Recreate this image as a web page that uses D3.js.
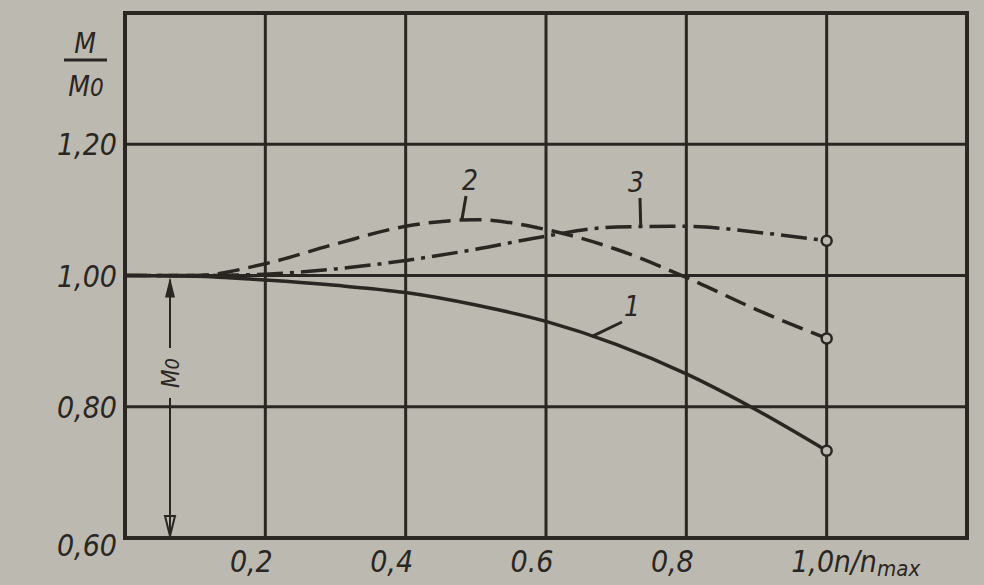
<!DOCTYPE html>
<html>
<head>
<meta charset="utf-8">
<script src="https://cdn.jsdelivr.net/npm/d3@7/dist/d3.min.js"></script>
<style>
  body { margin:0; background:#bcb9b0; }
  text { font-family:"DejaVu Sans Condensed","Liberation Sans Narrow",sans-serif; font-style:oblique; fill:#2a2622; }
</style>
</head>
<body>
<div id="chart"></div>
<script>
// values
var xTicks = [0.2, 0.4, 0.6, 0.8, 1.0];
var xTickLabels = ["0,2", "0,4", "0.6", "0,8", "1,0"];
var yTicks = [0.6, 0.8, 1.0, 1.2];
var yTickLabels = ["0,60", "0,80", "1,00", "1,20"];

var nRel = [0, 0.1, 0.2, 0.3, 0.4, 0.5, 0.6, 0.7, 0.8, 0.9, 1.0];
var curve1 = [1.0, 0.999, 0.993, 0.985, 0.974, 0.955, 0.93, 0.895, 0.85, 0.795, 0.733];
var curve2 = [1.0, 1.0, 1.018, 1.048, 1.075, 1.085, 1.07, 1.04, 0.997, 0.948, 0.904];
var curve3 = [1.0, 1.0, 1.002, 1.01, 1.023, 1.04, 1.06, 1.074, 1.075, 1.066, 1.053];
var curveNames = ["1", "2", "3"];

(function () {
    var width = 984, height = 585;
    var ink = "#2a2622";

    var svg = d3.select("#chart")
                .append("svg")
                .attr("width", width)
                .attr("height", height);

    var x = d3.scaleLinear().domain([0, 1.2]).range([125, 967]);
    var y = d3.scaleLinear().domain([0.6, 1.4]).range([538, 13]);

    // grid
    svg.selectAll(".vgrid")
       .data(xTicks)
       .enter().append("line")
       .attr("x1", function (d) { return x(d); })
       .attr("x2", function (d) { return x(d); })
       .attr("y1", y(1.4)).attr("y2", y(0.6))
       .attr("stroke", ink).attr("stroke-width", 3);

    svg.selectAll(".hgrid")
       .data(yTicks.slice(1))
       .enter().append("line")
       .attr("x1", x(0)).attr("x2", x(1.2))
       .attr("y1", function (d) { return y(d); })
       .attr("y2", function (d) { return y(d); })
       .attr("stroke", ink).attr("stroke-width", 3);

    svg.append("rect")
       .attr("x", x(0)).attr("y", y(1.4))
       .attr("width", x(1.2) - x(0)).attr("height", y(0.6) - y(1.4))
       .attr("fill", "none").attr("stroke", ink).attr("stroke-width", 4);

    // tick labels
    svg.selectAll(".ylab")
       .data(yTicks)
       .enter().append("text")
       .attr("x", 117)
       .attr("y", function (d, i) { return y(d) + (i == 0 ? 18 : 11); })
       .attr("text-anchor", "end")
       .attr("font-size", 30)
       .text(function (d, i) { return yTickLabels[i]; });

    svg.selectAll(".xlab")
       .data(xTicks)
       .enter().append("text")
       .attr("x", function (d) { return x(d) - 14; })
       .attr("y", 572)
       .attr("text-anchor", "middle")
       .attr("font-size", 30)
       .text(function (d, i) { return xTickLabels[i]; });

    var xt = svg.append("text")
                .attr("x", x(1.0) + 7).attr("y", 572)
                .attr("font-size", 30);
    xt.append("tspan").text("n/n");
    xt.append("tspan").attr("font-size", 22).attr("dy", 4).text("max");

    // y title M / M0
    svg.append("text").attr("x", 85).attr("y", 53)
       .attr("text-anchor", "middle").attr("font-size", 28).text("M");
    svg.append("line").attr("x1", 64).attr("x2", 107).attr("y1", 60).attr("y2", 60)
       .attr("stroke", ink).attr("stroke-width", 3);
    var m0 = svg.append("text").attr("x", 86).attr("y", 96)
                .attr("text-anchor", "middle").attr("font-size", 28);
    m0.append("tspan").text("M");
    m0.append("tspan").attr("font-size", 24).text("0");

    // curves
    var line = d3.line()
                 .x(function (d) { return x(d[0]); })
                 .y(function (d) { return y(d[1]); })
                 .curve(d3.curveMonotoneX);

    var series = [curve1, curve2, curve3];
    var dashes = [null, "22,9", "26,7,4,7"];

    series.forEach(function (vals, k) {
        var pts = nRel.map(function (n, i) { return [n, vals[i]]; });
        svg.append("path")
           .attr("d", line(pts))
           .attr("fill", "none")
           .attr("stroke", ink)
           .attr("stroke-width", 3.5)
           .attr("stroke-dasharray", dashes[k]);
        svg.append("circle")
           .attr("cx", x(1.0)).attr("cy", y(vals[vals.length - 1]))
           .attr("r", 5)
           .attr("fill", "#bcb9b0").attr("stroke", ink).attr("stroke-width", 2.5);
    });

    // curve labels with leaders
    var labelPos = [
        {n: 0.665, v: 0.907, tx: 632, ty: 316, lx: 622, ly: 322},
        {n: 0.48, v: 1.084, tx: 470, ty: 190, lx: 466, ly: 196},
        {n: 0.735, v: 1.075, tx: 636, ty: 192, lx: 640, ly: 198}
    ];
    labelPos.forEach(function (p, k) {
        svg.append("line")
           .attr("x1", x(p.n)).attr("y1", y(p.v))
           .attr("x2", p.lx).attr("y2", p.ly)
           .attr("stroke", ink).attr("stroke-width", 3);
        svg.append("text")
           .attr("x", p.tx).attr("y", p.ty)
           .attr("text-anchor", "middle")
           .attr("font-size", 28)
           .text(curveNames[k]);
    });

    // M0 dimension arrow
    var ax = 170;
    svg.append("line").attr("x1", ax).attr("x2", ax)
       .attr("y1", y(1.0) + 4).attr("y2", 348)
       .attr("stroke", ink).attr("stroke-width", 2);
    svg.append("line").attr("x1", ax).attr("x2", ax)
       .attr("y1", 398).attr("y2", y(0.6) - 4)
       .attr("stroke", ink).attr("stroke-width", 2);
    svg.append("path")
       .attr("d", "M" + ax + "," + (y(1.0) + 2) + " l-5,20 l10,0 z")
       .attr("fill", ink);
    svg.append("path")
       .attr("d", "M" + ax + "," + (y(0.6) - 2) + " l-5,-20 l10,0 z")
       .attr("fill", "none").attr("stroke", ink).attr("stroke-width", 2);
    var mt = svg.append("text")
                .attr("transform", "translate(" + (ax + 9) + ",373) rotate(-90)")
                .attr("text-anchor", "middle")
                .attr("font-size", 24);
    mt.append("tspan").text("M");
    mt.append("tspan").attr("font-size", 20).text("0");
})();
</script>
</body>
</html>
